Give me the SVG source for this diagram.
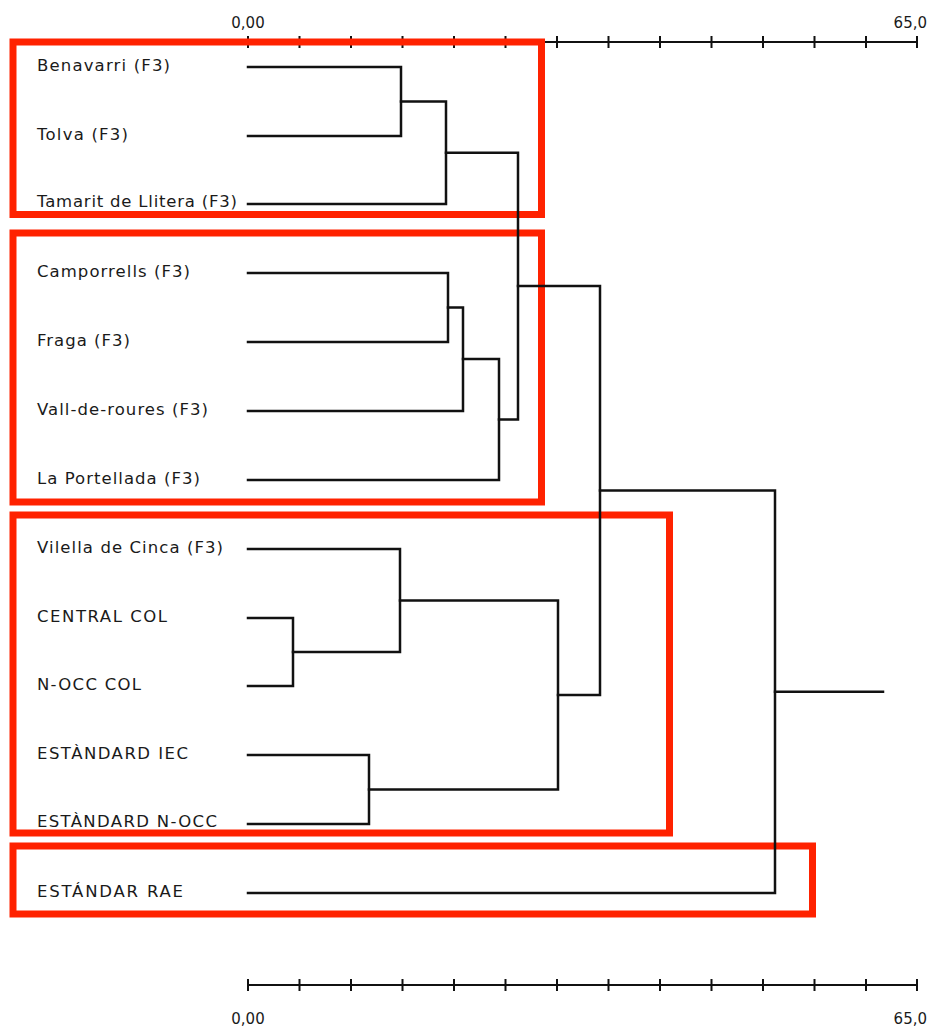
<svg xmlns="http://www.w3.org/2000/svg" width="928" height="1031" viewBox="0 0 928 1031">
<style>
.lbl{font-family:"DejaVu Sans","Liberation Sans",Arial,sans-serif;font-size:16.5px;fill:#1a1a1a}
.ax{font-family:"DejaVu Sans","Liberation Sans",Arial,sans-serif;font-size:15px;fill:#1a1a1a}
.axl{stroke:#111;stroke-width:2;fill:none}
.box{fill:none;stroke:#ff2200;stroke-width:7}
.den{fill:none;stroke:#111;stroke-width:2.5;stroke-linejoin:miter;stroke-linecap:square}
</style>
<defs>
<path id="ticks" d="M248,-6v12M299.5,-6v12M351,-6v12M402.5,-6v12M454,-6v12M505.5,-6v12M557,-6v12M608.5,-6v12M660,-6v12M711.5,-6v12M763,-6v12M814.5,-6v12M866,-6v12M917,-6v12M248,0H917"/>
</defs>
<rect width="928" height="1031" fill="#fff"/>
<g id="axis-top">
<use href="#ticks" class="axl" transform="translate(0,42)"/>
<text class="ax" x="248" y="28" text-anchor="middle">0,00</text>
<text class="ax" x="927" y="28" text-anchor="end">65,0</text>
</g>
<g id="axis-bottom">
<use href="#ticks" class="axl" transform="translate(0,985)"/>
<text class="ax" x="248" y="1024" text-anchor="middle">0,00</text>
<text class="ax" x="927" y="1024" text-anchor="end">65,0</text>
</g>
<g id="cluster-boxes">
<rect id="box1" class="box" x="13" y="42" width="528.5" height="172.5"/>
<rect id="box2" class="box" x="13" y="233" width="528.5" height="269"/>
<rect id="box3" class="box" x="13" y="515" width="656.5" height="318"/>
<rect id="box4" class="box" x="13" y="846" width="799.5" height="68"/>
</g>
<g id="connectors" class="den">
<path d="M248,67H401V136H248"/>
<path d="M401,101.5H446V204H248"/>
<path d="M446,152.75H518V419.5H499"/>
<path d="M248,273H448V342H248"/>
<path d="M448,307.5H463V411H248"/>
<path d="M463,359H499V480H248"/>
<path d="M518,286H600V695H558"/>
<path d="M248,618H293V686H248"/>
<path d="M248,549H400V652H293"/>
<path d="M400,600.5H558V789.5H369"/>
<path d="M248,755H369V824H248"/>
<path d="M600,490.5H775V893H248"/>
<path d="M775,691.75H883"/>
</g>
<g id="node-benavarri"><text class="lbl" x="37" y="71" textLength="133" lengthAdjust="spacing">Benavarri (F3)</text></g>
<g id="node-tolva"><text class="lbl" x="37" y="140" textLength="91" lengthAdjust="spacing">Tolva (F3)</text></g>
<g id="node-tamarit"><text class="lbl" x="37" y="207" textLength="200" lengthAdjust="spacing">Tamarit de Llitera (F3)</text></g>
<g id="node-camporrells"><text class="lbl" x="37" y="277" textLength="153" lengthAdjust="spacing">Camporrells (F3)</text></g>
<g id="node-fraga"><text class="lbl" x="37" y="346" textLength="93" lengthAdjust="spacing">Fraga (F3)</text></g>
<g id="node-vall"><text class="lbl" x="37" y="415" textLength="171" lengthAdjust="spacing">Vall-de-roures (F3)</text></g>
<g id="node-portellada"><text class="lbl" x="37" y="484" textLength="163" lengthAdjust="spacing">La Portellada (F3)</text></g>
<g id="node-vilella"><text class="lbl" x="37" y="553" textLength="186" lengthAdjust="spacing">Vilella de Cinca (F3)</text></g>
<g id="node-central-col"><text class="lbl" x="37" y="622" textLength="130" lengthAdjust="spacing">CENTRAL COL</text></g>
<g id="node-nocc-col"><text class="lbl" x="37" y="690" textLength="104" lengthAdjust="spacing">N-OCC COL</text></g>
<g id="node-estandard-iec"><text class="lbl" x="37" y="759" textLength="151" lengthAdjust="spacing">ESTÀNDARD IEC</text></g>
<g id="node-estandard-nocc"><text class="lbl" x="37" y="827" textLength="180" lengthAdjust="spacing">ESTÀNDARD N-OCC</text></g>
<g id="node-estandar-rae"><text class="lbl" x="37" y="897" textLength="146" lengthAdjust="spacing">ESTÁNDAR RAE</text></g>
</svg>
